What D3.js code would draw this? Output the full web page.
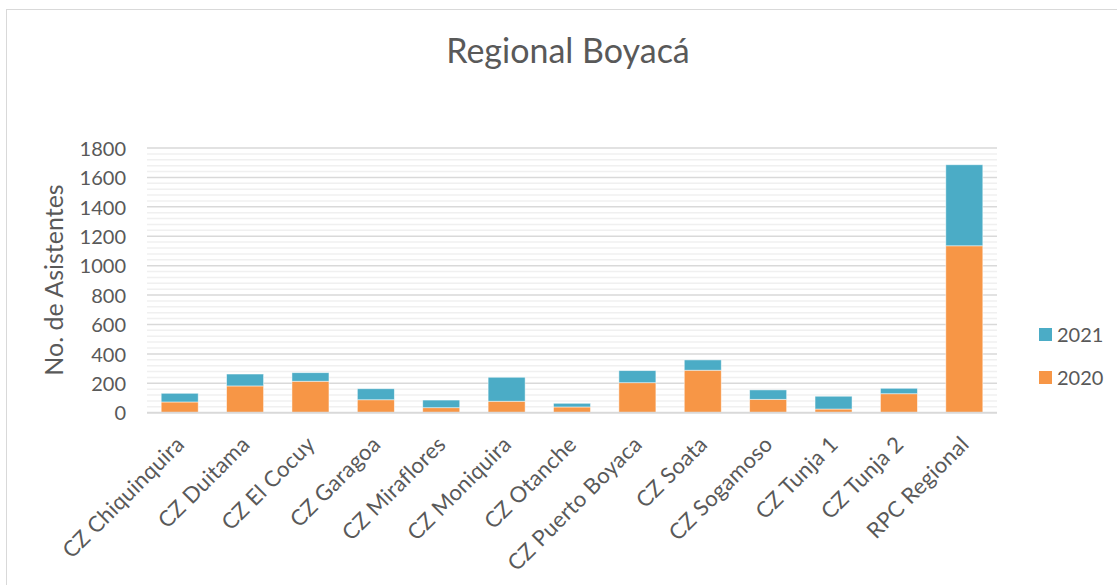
<!DOCTYPE html>
<html>
<head>
<meta charset="utf-8">
<script src="https://cdn.jsdelivr.net/npm/d3@7"></script>
<style>
  html, body { margin: 0; padding: 0; background: #fff; }
  svg { display: block; font-family: Lato, "Open Sans", sans-serif; }
</style>
</head>
<body>
<svg id="chart" width="1117" height="585"></svg>
<script>
// Attendance per zonal centre, stacked by year
const categories = ["CZ Chiquinquira", "CZ Duitama", "CZ El Cocuy", "CZ Garagoa", "CZ Miraflores",
  "CZ Moniquira", "CZ Otanche", "CZ Puerto Boyaca", "CZ Soata", "CZ Sogamoso",
  "CZ Tunja 1", "CZ Tunja 2", "RPC Regional"];
const values2020 = [73, 182, 214, 88, 34, 78, 39, 204, 289, 91, 25, 129, 1135];
const values2021 = [59, 81, 58, 75, 52, 163, 25, 82, 70, 64, 87, 37, 551];
const seriesNames = ["2020", "2021"];
const seriesColors = ["#F79646", "#4BACC6"];
const yTicks = [0, 200, 400, 600, 800, 1000, 1200, 1400, 1600, 1800];

const svg = d3.select("#chart");
const W = 1117, H = 585;
const plot = { left: 147, right: 997, top: 148, bottom: 412.7 };

// outer frame
svg.append("rect").attr("x", 6.5).attr("y", 9.5).attr("width", W - 2).attr("height", H + 10)
  .attr("fill", "#fff").attr("stroke", "#d9d9d9").attr("stroke-width", 1);

const rows = categories.map((c, i) => ({ cat: c, "2020": values2020[i], "2021": values2021[i] }));
const stacked = d3.stack().keys(seriesNames)(rows);

const x = d3.scaleBand().domain(categories).range([plot.left, plot.right]).paddingInner(0.434).paddingOuter(0.217);
const y = d3.scaleLinear().domain([0, 1800]).range([plot.bottom, plot.top]);

// minor gridlines
svg.append("g").selectAll("line").data(d3.range(0, 1801, 40).filter(v => v % 200 !== 0)).join("line")
  .attr("x1", plot.left).attr("x2", plot.right)
  .attr("y1", d => y(d)).attr("y2", d => y(d))
  .attr("stroke", "#f0f0f0").attr("stroke-width", 1.5);

// major gridlines
svg.append("g").selectAll("line").data(yTicks.filter(v => v > 0)).join("line")
  .attr("x1", plot.left).attr("x2", plot.right)
  .attr("y1", d => y(d)).attr("y2", d => y(d))
  .attr("stroke", "#d9d9d9").attr("stroke-width", 1.5);

// bars
svg.append("g").selectAll("g").data(stacked).join("g")
  .attr("fill", (d, i) => seriesColors[i])
  .selectAll("rect").data(d => d).join("rect")
  .attr("x", d => x(d.data.cat))
  .attr("width", x.bandwidth())
  .attr("y", d => y(d[1]))
  .attr("height", d => y(d[0]) - y(d[1]))
  .attr("stroke", "#fff").attr("stroke-opacity", 0.6).attr("stroke-width", 0.8);

// category axis line
svg.append("line").attr("x1", plot.left).attr("x2", plot.right)
  .attr("y1", y(0)).attr("y2", y(0)).attr("stroke", "#d9d9d9").attr("stroke-width", 2);

// y axis labels
const yAxis = d3.axisLeft(y).tickValues(yTicks).tickSize(0).tickPadding(0).tickFormat(d3.format("d"));
const gy = svg.append("g").attr("transform", `translate(126,0)`).call(yAxis);
gy.select(".domain").remove();
gy.selectAll("text").attr("font-size", 20).attr("fill", "#595959")
  .attr("font-family", "Lato, sans-serif").attr("dy", "0.36em");

// x axis labels, rotated
const xAxis = d3.axisBottom(x).tickSize(0).tickPadding(0);
const gx = svg.append("g").attr("transform", `translate(0,${plot.bottom})`).call(xAxis);
gx.select(".domain").remove();
gx.selectAll("text")
  .attr("font-size", 22).attr("fill", "#595959").attr("font-family", "Lato, sans-serif")
  .attr("letter-spacing", 0.3)
  .attr("text-anchor", "end")
  .attr("dy", null).attr("y", 0)
  .attr("transform", "translate(6,33) rotate(-45)");

// axis title
svg.append("text")
  .attr("transform", `translate(63,280) rotate(-90)`)
  .attr("text-anchor", "middle").attr("font-size", 25).attr("fill", "#595959")
  .text("No. de Asistentes");

// title
svg.append("text").attr("x", 568).attr("y", 62.5).attr("text-anchor", "middle")
  .attr("font-size", 34).attr("fill", "#595959").text("Regional Boyacá");

// legend (2021 listed first)
const legendItems = [
  { name: seriesNames[1], color: seriesColors[1] },
  { name: seriesNames[0], color: seriesColors[0] }
];
const lg = svg.append("g").selectAll("g").data(legendItems).join("g")
  .attr("transform", (d, i) => `translate(1039,${328 + i * 43})`);
lg.append("rect").attr("width", 13).attr("height", 13).attr("fill", d => d.color);
lg.append("text").attr("x", 18).attr("y", 7).attr("dy", "0.36em")
  .attr("font-size", 20).attr("fill", "#595959").text(d => d.name);
</script>
</body>
</html>
